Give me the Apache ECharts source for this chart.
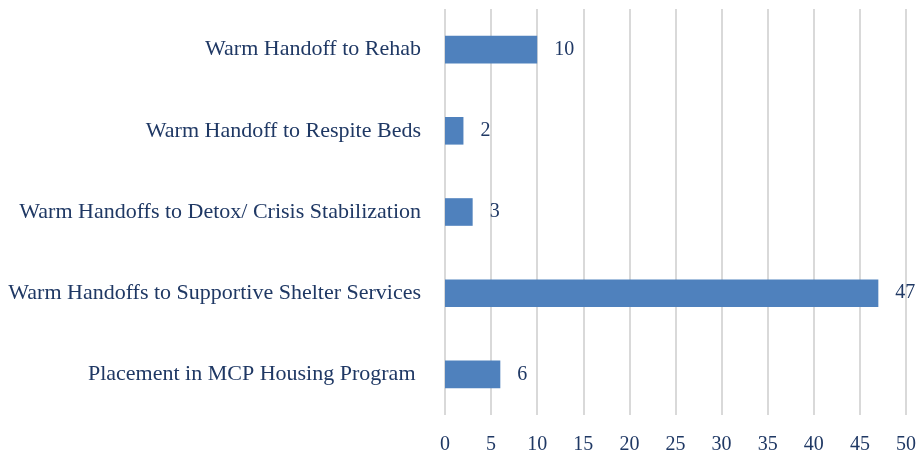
<!DOCTYPE html>
<html>
<head>
<meta charset="utf-8">
<script src="https://cdn.jsdelivr.net/npm/echarts@6/dist/echarts.min.js"></script>
<style>
  html, body { margin: 0; padding: 0; background: #fff; }
  #chart { width: 919px; height: 455px; }
</style>
</head>
<body>
<div id="chart"></div>
<script>
// categories listed bottom to top (category axis starts at the bottom)
const categories = [
  'Placement in MCP Housing Program ',
  'Warm Handoffs to Supportive Shelter Services',
  'Warm Handoffs to Detox/ Crisis Stabilization',
  'Warm Handoff to Respite Beds',
  'Warm Handoff to Rehab'
]
const values = [6, 47, 3, 2, 10]
const xTicks = [0, 5, 10, 15, 20, 25, 30, 35, 40, 45, 50]

const textColor = '#1f3864'
const fontFamily = '"Liberation Serif", "DejaVu Serif", serif'

const myChart = echarts.init(document.getElementById('chart'))
const option = {
  animation: false,
  textStyle: { fontFamily: fontFamily },
  grid: {
    left: 445,
    top: 9,
    width: 463,
    height: 409,
    containLabel: false
  },
  xAxis: {
    type: 'value',
    min: xTicks[0],
    max: xTicks[xTicks.length - 1],
    interval: 5,
    axisLine: { show: false },
    axisTick: { show: false },
    axisLabel: {
      color: textColor,
      fontSize: 20,
      fontFamily: fontFamily,
      margin: 20
    },
    splitLine: { lineStyle: { color: '#d9d9d9', width: 2 } }
  },
  yAxis: {
    type: 'category',
    data: categories,
    axisLine: { show: false },
    axisTick: { show: false },
    axisLabel: {
      color: textColor,
      fontSize: 22,
      fontFamily: fontFamily,
      margin: 24
    }
  },
  series: [
    {
      type: 'bar',
      data: values,
      barWidth: '34%',
      itemStyle: { color: '#4f81bd' },
      label: {
        show: true,
        position: 'right',
        distance: 17,
        color: textColor,
        fontSize: 20,
        fontFamily: fontFamily
      }
    }
  ]
}
myChart.setOption(option)
</script>
</body>
</html>
